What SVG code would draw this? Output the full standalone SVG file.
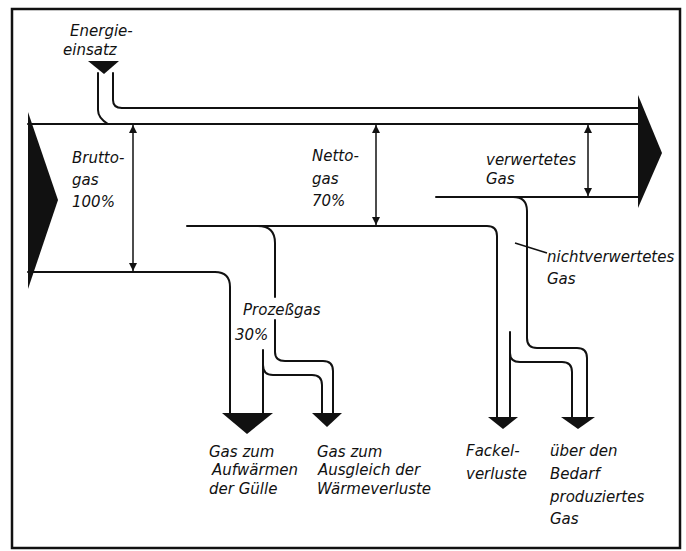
<svg xmlns="http://www.w3.org/2000/svg" width="686" height="551" viewBox="0 0 686 551">
<defs>
<style>
.l{fill:none;stroke:#111;stroke-width:2;stroke-linecap:round}
.d{fill:none;stroke:#111;stroke-width:1.5}
.f{fill:#111;stroke:none}
text{font-family:"DejaVu Sans","Liberation Sans",sans-serif;font-style:italic;font-size:15px;fill:#111}
</style>
<marker id="ah" viewBox="0 0 10 10" refX="10" refY="5" markerUnits="userSpaceOnUse" markerWidth="8" markerHeight="12" orient="auto-start-reverse">
<path d="M0,0 L10,5 L0,10 z" fill="#111"/>
</marker>
</defs>
<rect width="686" height="551" fill="#fff"/>
<rect x="12" y="9" width="668" height="539" fill="none" stroke="#111" stroke-width="2.5"/>

<g id="connectors">
<!-- main bands -->
<path class="l" d="M28,124 H638"/>
<path class="l" d="M122,108 H638"/>
<path class="l" d="M28,272 H215 Q230,272 230,287 V413"/>
<path class="l" d="M187,226 H487 Q497,226 497,236 V417"/>
<path class="l" d="M436,197 H638"/>
<!-- energy input pipe -->
<path class="l" d="M98,73 V110 Q98,118 108,124"/>
<path class="l" d="M113,73 V100 Q113,108 122,108"/>
<!-- process gas pipe -->
<path class="l" d="M258,226 Q275,226 275,243 V297"/>
<path class="l" d="M275,320 V352 Q275,361 285,361 H323 Q333,361 333,371 V413"/>
<path class="l" d="M263,350 V413"/>
<path class="l" d="M263,365 Q263,375 273,375 H312 Q322,375 322,385 V413"/>
<!-- non-utilised gas pipe -->
<path class="l" d="M513,197 Q527,197 527,211 V338 Q527,348 537,348 H577 Q587,348 587,358 V417"/>
<path class="l" d="M510,332 V417"/>
<path class="l" d="M510,353 Q510,362 520,362 H562 Q572,362 572,372 V417"/>
<!-- leader -->
<path class="d" d="M515,243 L547,253"/>
<!-- dimension arrows -->
<path class="d" d="M133,125 V271" marker-start="url(#ah)" marker-end="url(#ah)"/>
<path class="d" d="M376,125 V225" marker-start="url(#ah)" marker-end="url(#ah)"/>
<path class="d" d="M588,125 V196" marker-start="url(#ah)" marker-end="url(#ah)"/>
</g>

<g id="in-brutto">
<polygon class="f" points="28,112 58,200 28,289"/>
</g>
<g id="out-verwertet">
<polygon class="f" points="638,95 662,153 638,208"/>
</g>
<g id="in-energie">
<polygon class="f" points="88,61 119,61 104,74"/>
<text x="70" y="36">Energie-</text>
<text x="63" y="55">einsatz</text>
</g>
<g id="label-brutto">
<text x="72" y="163">Brutto-</text>
<text x="72" y="185">gas</text>
<text x="72" y="207">100%</text>
</g>
<g id="label-netto">
<text x="312" y="161">Netto-</text>
<text x="312" y="184">gas</text>
<text x="312" y="206">70%</text>
</g>
<g id="label-verwertet">
<text x="486" y="165">verwertetes</text>
<text x="486" y="184">Gas</text>
</g>
<g id="label-nichtverwertet">
<text x="547" y="262">nichtverwertetes</text>
<text x="547" y="284">Gas</text>
</g>
<g id="label-prozess">
<text x="243" y="315">Prozeßgas</text>
<text x="235" y="340">30%</text>
</g>
<g id="out-guelle">
<polygon class="f" points="222,413 273,413 247,434"/>
<text x="209" y="457">Gas zum</text>
<text x="212" y="475">Aufwärmen</text>
<text x="209" y="494">der Gülle</text>
</g>
<g id="out-waerme">
<polygon class="f" points="312,413 342,413 327,427"/>
<text x="317" y="457">Gas zum</text>
<text x="318" y="475">Ausgleich der</text>
<text x="317" y="494">Wärmeverluste</text>
</g>
<g id="out-fackel">
<polygon class="f" points="488,417 518,417 503,429"/>
<text x="466" y="456">Fackel-</text>
<text x="466" y="479">verluste</text>
</g>
<g id="out-ueberschuss">
<polygon class="f" points="561,417 595,417 578,429"/>
<text x="550" y="456">über den</text>
<text x="550" y="479">Bedarf</text>
<text x="550" y="502">produziertes</text>
<text x="550" y="524">Gas</text>
</g>
</svg>
